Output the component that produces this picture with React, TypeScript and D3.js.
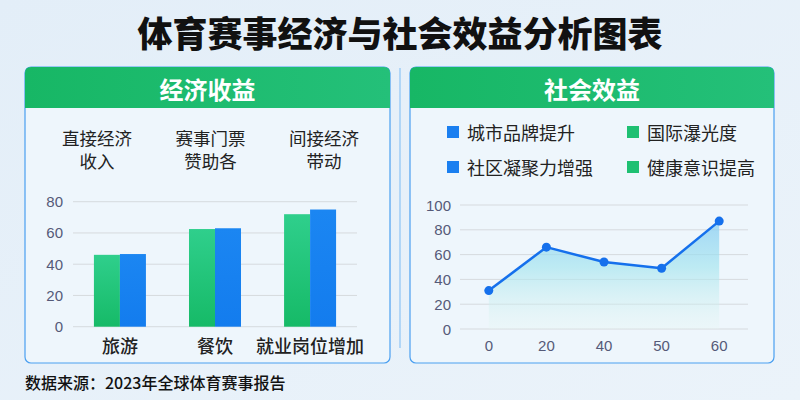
import React from 'react';
import * as d3 from 'd3';

const title = '体育赛事经济与社会效益分析图表';
const leftHeader = '经济收益';
const rightHeader = '社会效益';
const footer = '数据来源：2023年全球体育赛事报告';

const categories = ['旅游', '餐饮', '就业岗位增加'];
const topLabels = [['直接经济', '收入'], ['赛事门票', '赞助各'], ['间接经济', '带动']];
const greenValues = [46, 62.5, 72];
const blueValues = [46.5, 63, 75];
const leftTicks = [0, 20, 40, 60, 80];

const legendItems = ['城市品牌提升', '国际瀑光度', '社区凝聚力增强', '健康意识提高'];
const legendColors = ['blue', 'green', 'blue', 'green'];

const lineX = ['0', '20', '40', '50', '60'];
const lineValues = [31, 66, 54, 49, 87];
const rightTicks = [0, 20, 40, 60, 80, 100];

const CJK = '"Noto Sans CJK SC", "Noto Sans", sans-serif';
const NUM = '"Liberation Sans", Arial, sans-serif';
const BLUE = '#1a7ff0';
const GREEN = '#1ec072';

function headerPath(x: number, y: number, w: number, h: number, r: number) {
  return `M${x},${y + h} L${x},${y + r} Q${x},${y} ${x + r},${y} L${x + w - r},${y} Q${x + w},${y} ${x + w},${y + r} L${x + w},${y + h} Z`;
}

export default function App() {
  const W = 800, H = 400;

  // Left chart scales
  const xBand = d3.scaleBand<string>().domain(categories).range([73, 357]).paddingInner(0.453).paddingOuter(0.22);
  const xSub = d3.scaleBand<string>().domain(['g', 'b']).range([0, xBand.bandwidth()]);
  const yL = d3.scaleLinear().domain([0, 80]).range([326.7, 201.7]);
  const topX = d3.scalePoint<string>().domain(topLabels.map((d) => d[0])).range([97, 324]);

  // Right chart scales
  const xP = d3.scalePoint<string>().domain(lineX).range([460, 748]).padding(0.5);
  const yR = d3.scaleLinear().domain([0, 100]).range([329, 205]);
  const pts = lineX.map((k, i) => ({ k, v: lineValues[i] }));
  const line = d3.line<{ k: string; v: number }>().x((d) => xP(d.k)!).y((d) => yR(d.v));
  const area = d3.area<{ k: string; v: number }>().x((d) => xP(d.k)!).y0(yR(0)).y1((d) => yR(d.v));

  const legX = d3.scalePoint<number>().domain([0, 1]).range([447, 627]);
  const legY = d3.scalePoint<number>().domain([0, 1]).range([132, 167]);

  return (
    <svg width={W} height={H} style={{ display: 'block', position: 'absolute', left: 0, top: 0 }}>
      <defs>
        <linearGradient id="bg" x1="0" y1="0" x2="1" y2="1">
          <stop offset="0" stopColor="#e3eef8" />
          <stop offset="1" stopColor="#ebf3fa" />
        </linearGradient>
        <linearGradient id="hdr" x1="0" y1="0" x2="1" y2="0">
          <stop offset="0" stopColor="#17b765" />
          <stop offset="1" stopColor="#24c079" />
        </linearGradient>
        <linearGradient id="gbar" x1="0" y1="0" x2="0" y2="1">
          <stop offset="0" stopColor="#2fcf8c" />
          <stop offset="1" stopColor="#16ba67" />
        </linearGradient>
        <linearGradient id="bbar" x1="0" y1="0" x2="0" y2="1">
          <stop offset="0" stopColor="#1b86f2" />
          <stop offset="1" stopColor="#137cee" />
        </linearGradient>
        <linearGradient id="areaG" gradientUnits="userSpaceOnUse" x1="0" y1={yR(100)} x2="0" y2={yR(0)}>
          <stop offset="0" stopColor="#78c2f4" stopOpacity="0.75" />
          <stop offset="0.5" stopColor="#a2e4ee" stopOpacity="0.65" />
          <stop offset="1" stopColor="#e4f6f0" stopOpacity="0.25" />
        </linearGradient>
      </defs>
      <rect x={0} y={0} width={W} height={H} fill="url(#bg)" />

      <text x={400} y={31} textAnchor="middle" dominantBaseline="central" fontFamily={CJK} fontWeight={900} fontSize={35} fill="#111">{title}</text>

      {/* Panels */}
      <rect x={25} y={67} width={365} height={296} rx={6} fill="#eef6fc" stroke="#4a9ff0" strokeWidth={1.2} />
      <path d={headerPath(25, 67, 365, 41, 6)} fill="url(#hdr)" />
      <text x={207.5} y={88} textAnchor="middle" dominantBaseline="central" fontFamily={CJK} fontWeight={700} fontSize={24} fill="#fff">{leftHeader}</text>

      <rect x={410} y={67} width={364} height={296} rx={6} fill="#eef6fc" stroke="#4a9ff0" strokeWidth={1.2} />
      <path d={headerPath(410, 67, 364, 41, 6)} fill="url(#hdr)" />
      <text x={592} y={88} textAnchor="middle" dominantBaseline="central" fontFamily={CJK} fontWeight={700} fontSize={24} fill="#fff">{rightHeader}</text>

      <line x1={400} x2={400} y1={68} y2={348} stroke="#8cc4f5" strokeWidth={1.2} />

      {/* Left chart */}
      {topLabels.map((lines) => (
        <g key={lines[0]}>
          {lines.map((t, j) => (
            <text key={t} x={topX(lines[0])} y={137 + j * 23} textAnchor="middle" dominantBaseline="central" fontFamily={CJK} fontSize={17.5} fill="#222">{t}</text>
          ))}
        </g>
      ))}
      {leftTicks.map((t) => (
        <g key={t}>
          <line x1={73} x2={357} y1={yL(t)} y2={yL(t)} stroke="#d6dade" strokeWidth={1} />
          <text x={63} y={yL(t)} textAnchor="end" dominantBaseline="central" fontFamily={NUM} fontSize={15} fill="#555a78">{t}</text>
        </g>
      ))}
      {categories.map((c, i) => (
        <g key={c}>
          <rect x={xBand(c)! + xSub('g')!} y={yL(greenValues[i])} width={xSub.bandwidth()} height={yL(0) - yL(greenValues[i])} fill="url(#gbar)" />
          <rect x={xBand(c)! + xSub('b')!} y={yL(blueValues[i])} width={xSub.bandwidth()} height={yL(0) - yL(blueValues[i])} fill="url(#bbar)" />
          <text x={xBand(c)! + xBand.bandwidth() / 2} y={345} textAnchor="middle" dominantBaseline="central" fontFamily={CJK} fontWeight={500} fontSize={18} fill="#222">{c}</text>
        </g>
      ))}

      {/* Legend */}
      {legendItems.map((t, i) => {
        const col = i % 2, row = Math.floor(i / 2);
        const lx = legX(col)!, ly = legY(row)!;
        return (
          <g key={t}>
            <rect x={lx} y={ly - 6} width={12} height={12} fill={legendColors[i] === 'blue' ? BLUE : GREEN} />
            <text x={lx + 20} y={ly} dominantBaseline="central" fontFamily={CJK} fontSize={18} fill="#222">{t}</text>
          </g>
        );
      })}

      {/* Right chart */}
      {rightTicks.map((t) => (
        <g key={t}>
          <line x1={460} x2={748} y1={yR(t)} y2={yR(t)} stroke="#d6dade" strokeWidth={1} />
          <text x={451} y={yR(t)} textAnchor="end" dominantBaseline="central" fontFamily={NUM} fontSize={15} fill="#555a78">{t}</text>
        </g>
      ))}
      <path d={area(pts)!} fill="url(#areaG)" />
      <path d={line(pts)!} fill="none" stroke="#1570ec" strokeWidth={2.5} strokeLinejoin="round" />
      {pts.map((p) => (
        <circle key={p.k} cx={xP(p.k)} cy={yR(p.v)} r={4.5} fill="#1570ec" />
      ))}
      {lineX.map((k) => (
        <text key={k} x={xP(k)} y={345} textAnchor="middle" dominantBaseline="central" fontFamily={NUM} fontSize={15} fill="#555a78">{k}</text>
      ))}

      <text x={25} y={382} dominantBaseline="central" fontFamily={CJK} fontWeight={500} fontSize={16} fill="#111">{footer}</text>
    </svg>
  );
}
